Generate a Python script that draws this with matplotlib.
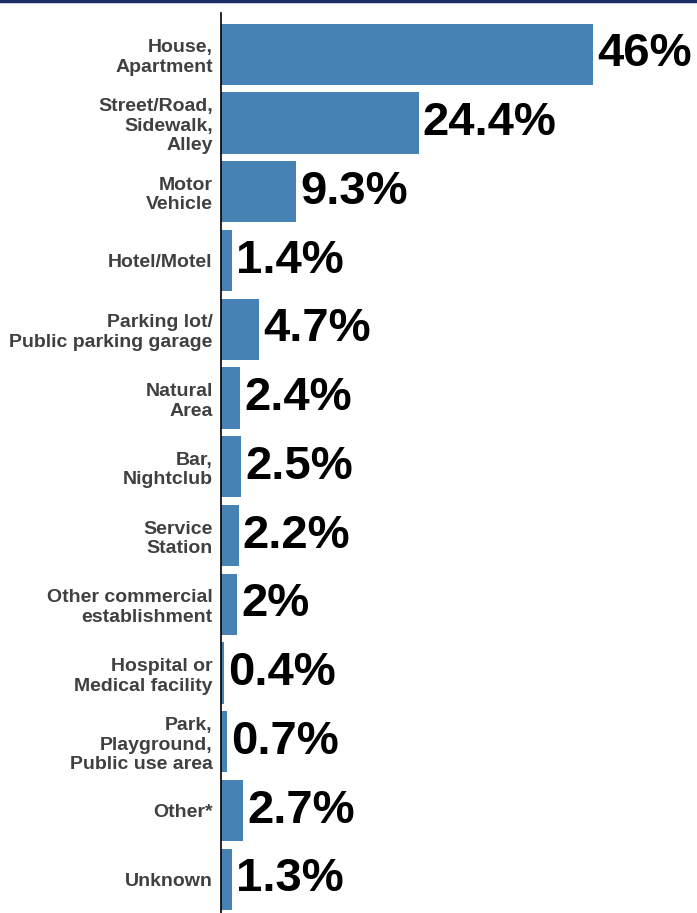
import matplotlib.pyplot as plt
from matplotlib.lines import Line2D

categories = ["House,\nApartment", "Street/Road,\nSidewalk,\nAlley", "Motor\nVehicle",
              "Hotel/Motel", "Parking lot/\nPublic parking garage", "Natural\nArea",
              "Bar,\nNightclub", "Service\nStation", "Other commercial\nestablishment",
              "Hospital or\nMedical facility", "Park,\nPlayground,\nPublic use area",
              "Other*", "Unknown"]
values = [46, 24.4, 9.3, 1.4, 4.7, 2.4, 2.5, 2.2, 2, 0.4, 0.7, 2.7, 1.3]
value_labels = ["46%", "24.4%", "9.3%", "1.4%", "4.7%", "2.4%", "2.5%", "2.2%",
                "2%", "0.4%", "0.7%", "2.7%", "1.3%"]

plt.rcParams['font.family'] = ['Liberation Sans', 'DejaVu Sans']

fig = plt.figure(figsize=(6.97, 9.13), dpi=100)
ax = fig.add_axes([221 / 697, 0, 1 - 221 / 697, 900 / 913])

pos = list(range(len(categories)))
ax.barh(pos, values, height=0.89, color="#4682B4")

for p, v, lab in zip(pos, values, value_labels):
    ax.text(v + 0.5, p, lab, va="center", ha="left", fontsize=34,
            fontweight="bold", color="black")

ax.set_yticks(pos)
ax.set_yticklabels(categories, fontsize=14, fontweight="bold", color="#404040",
                   linespacing=1.2)
ax.tick_params(axis="y", length=0, pad=6)
ax.set_xticks([])
ax.set_xlim(0, 58.8)
ax.set_ylim(12.49, -0.6)

for s in ["top", "right", "bottom"]:
    ax.spines[s].set_visible(False)
ax.spines["left"].set_linewidth(1.2)
ax.spines["left"].set_color("black")

# dark band along the top edge
fig.add_artist(Line2D([0, 1], [0.999, 0.999], color="#1B2F66", linewidth=2.5,
                      transform=fig.transFigure))

fig.savefig("out.png", dpi=100)
